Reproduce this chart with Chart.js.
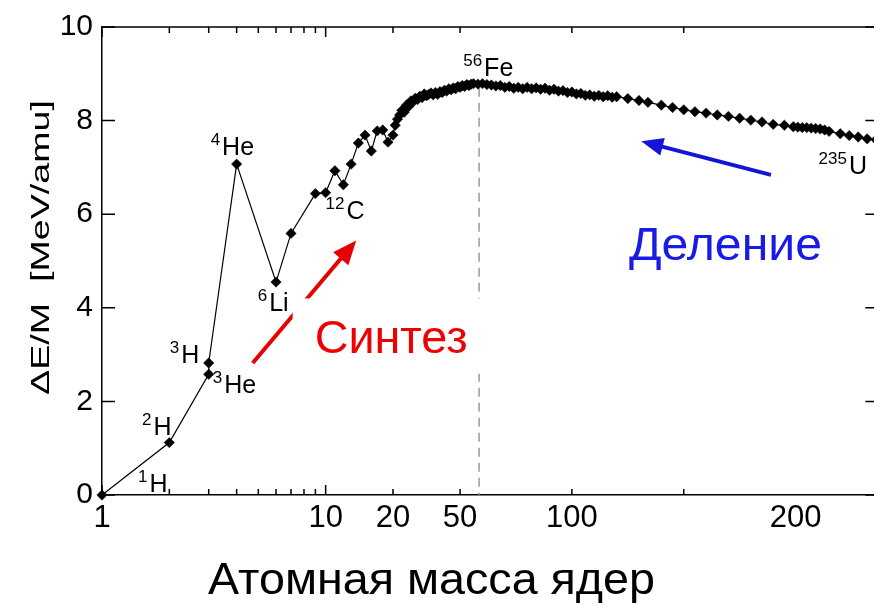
<!DOCTYPE html>
<html>
<head>
<meta charset="utf-8">
<script src="https://cdn.jsdelivr.net/npm/chart.js@4.4.0/dist/chart.umd.min.js"></script>
<style>
  html, body { margin: 0; padding: 0; background: #fff; overflow: hidden; }
  #wrap { width: 874px; height: 606px; overflow: hidden; }
  canvas { display: block; }
</style>
</head>
<body>
<div id="wrap"><canvas id="chart" width="884" height="606"></canvas></div>
<script>
// Binding energy per nucleon vs mass number
const massNumbers = [
  1, 2, 3, 3, 4, 6, 7, 9, 10, 11, 12, 13, 14, 15, 16, 17, 18, 19,
  20, 21, 22, 23, 24, 25, 26, 27, 28, 29, 30, 31, 32, 33, 34, 35, 36, 37, 38, 39,
  40, 41, 42, 43, 44, 45, 46, 47, 48, 49, 50, 51, 52, 53, 54, 55, 56, 58,
  60, 62, 64, 66, 68, 70, 72, 74, 76, 78, 80, 82, 84, 86, 88, 90, 92, 94, 96, 98,
  100, 102, 104, 106, 108, 110, 112, 114, 116, 118, 120,
  125, 130, 134, 140, 145, 150, 155, 160, 165, 170, 175, 180, 185, 190, 195,
  199, 201, 203, 205, 207, 209, 211, 213, 215, 220, 224, 228, 232, 236
];
const bindingPerNucleon = [
  0, 1.12, 2.58, 2.82, 7.07, 4.55, 5.59, 6.44, 6.46, 6.93, 6.63, 7.07, 7.52, 7.69, 7.35, 7.78, 7.80, 7.54,
  7.69, 7.90, 8.03, 8.12, 8.22, 8.18, 8.33, 8.30, 8.42, 8.40, 8.48, 8.45, 8.52, 8.49, 8.57, 8.53, 8.56, 8.59, 8.55, 8.60,
  8.56, 8.62, 8.60, 8.65, 8.63, 8.68, 8.66, 8.70, 8.68, 8.73, 8.71, 8.75, 8.73, 8.77, 8.75, 8.78, 8.79, 8.78,
  8.79, 8.77, 8.76, 8.74, 8.75, 8.71, 8.73, 8.69, 8.71, 8.68, 8.71, 8.68, 8.70, 8.67, 8.69, 8.65, 8.67, 8.63, 8.64, 8.60,
  8.61, 8.57, 8.58, 8.54, 8.55, 8.52, 8.54, 8.51, 8.53, 8.50, 8.51,
  8.47, 8.43, 8.39, 8.33, 8.28, 8.23, 8.19, 8.16, 8.12, 8.09, 8.05, 8.01, 7.97, 7.92, 7.90,
  7.87, 7.86, 7.85, 7.85, 7.84, 7.83, 7.82, 7.80, 7.77, 7.72, 7.68, 7.65, 7.61, 7.59
];

const xTickMasses = [1, 10, 20, 50, 100, 200];
const longTickMasses = [1, 10];
const shortTickMasses = [2, 3, 4, 5, 6, 7, 8, 9, 20, 50, 100, 150];
const yTickValues = [0, 2, 4, 6, 8, 10];
const xMaxMass = 237;
const feLineMass = 58.5;

// [superscript, symbol, mass, value] - left/baseline anchor of each label
const isotopeLabels = [
  ['1', 'H', 1.45, 0.06],
  ['2', 'H', 1.51, 1.29],
  ['3', 'H', 2.01, 2.82],
  ['3', 'He', 3.13, 2.19],
  ['4', 'He', 3.06, 7.26],
  ['6', 'Li', 4.97, 3.93],
  ['12', 'C', 9.99, 5.90],
  ['56', 'Fe', 51.4, 8.96],
  ['235', 'U', 210.3, 6.86]
];

const FONT = "'Liberation Sans', Arial, sans-serif";

// the figure's axis: log up to 20, then linear (0.01 decade per mass unit)
function axisPos(a) {
  return a <= 20 ? Math.log10(a) : Math.log10(20) + (a - 20) / 100;
}

function drawArrow(ctx, x1, y1, x2, y2, color, width, head, half) {
  const ang = Math.atan2(y2 - y1, x2 - x1);
  const c = Math.cos(ang), s = Math.sin(ang);
  ctx.strokeStyle = color;
  ctx.fillStyle = color;
  ctx.lineWidth = width;
  ctx.setLineDash([]);
  ctx.beginPath();
  ctx.moveTo(x1, y1);
  ctx.lineTo(x2 - c * head * 0.8, y2 - s * head * 0.8);
  ctx.stroke();
  ctx.beginPath();
  ctx.moveTo(x2, y2);
  ctx.lineTo(x2 - c * head + s * half, y2 - s * head - c * half);
  ctx.lineTo(x2 - c * head - s * half, y2 - s * head + c * half);
  ctx.closePath();
  ctx.fill();
}

// text stretched along its own direction to a given length
function fillStretched(ctx, text, x, y, length) {
  const w = ctx.measureText(text).width;
  ctx.save();
  ctx.translate(x, y);
  ctx.scale(length / w, 1);
  ctx.fillText(text, 0, 0);
  ctx.restore();
}

const overlay = {
  id: 'overlay',
  beforeDatasetsDraw(chart) {
    const { ctx, chartArea: ca, scales: { x, y } } = chart;
    const fx = x.getPixelForValue(axisPos(feLineMass));
    ctx.save();
    ctx.strokeStyle = '#8a8a8a';
    ctx.lineWidth = 1.3;
    ctx.setLineDash([9, 6]);
    ctx.beginPath();
    ctx.moveTo(fx, y.getPixelForValue(8.7));
    ctx.lineTo(fx, ca.bottom);
    ctx.stroke();
    ctx.restore();
  },
  afterDraw(chart) {
    const { ctx, chartArea: ca, scales: { x, y } } = chart;
    const px = a => x.getPixelForValue(axisPos(a));
    const py = v => y.getPixelForValue(v);
    ctx.save();

    // top and right frame
    ctx.strokeStyle = '#000';
    ctx.lineWidth = 1.5;
    ctx.beginPath();
    ctx.moveTo(ca.left, ca.top);
    ctx.lineTo(ca.right, ca.top);
    ctx.lineTo(ca.right, ca.bottom);
    ctx.stroke();

    // inward ticks
    ctx.beginPath();
    longTickMasses.concat(shortTickMasses).forEach(a => {
      const len = longTickMasses.includes(a) ? 10 : 6;
      const xx = px(a);
      ctx.moveTo(xx, ca.bottom); ctx.lineTo(xx, ca.bottom - len);
      ctx.moveTo(xx, ca.top); ctx.lineTo(xx, ca.top + len);
    });
    yTickValues.forEach(v => {
      const yy = py(v);
      ctx.moveTo(ca.left, yy); ctx.lineTo(ca.left + 13, yy);
      ctx.moveTo(ca.right, yy); ctx.lineTo(ca.right - 13, yy);
    });
    ctx.stroke();

    // arrows
    drawArrow(ctx, px(4.72), py(2.82), px(13.7), py(5.44), '#e80000', 4, 24, 10);
    drawArrow(ctx, px(189), py(6.84), px(131), py(7.56), '#1414d8', 4, 22, 9);

    // white box behind the fusion label
    ctx.fillStyle = '#fff';
    const bx = px(7.12), by = py(4.2);
    ctx.fillRect(bx, by, px(59.8) - bx, py(2.59) - by);

    ctx.textAlign = 'left';
    ctx.textBaseline = 'alphabetic';
    ctx.font = '46px ' + FONT;
    ctx.fillStyle = '#ee0000';
    fillStretched(ctx, 'Синтез', px(8.93), py(3.04), 153);
    ctx.fillStyle = '#1a1ae6';
    fillStretched(ctx, 'Деление', px(125.5), py(5.03), 193);

    // isotope labels with superscripts
    ctx.fillStyle = '#000';
    isotopeLabels.forEach(([sup, sym, a, v]) => {
      const lx = px(a), ly = py(v);
      ctx.font = '17px ' + FONT;
      ctx.fillText(sup, lx, ly - 10);
      const w = ctx.measureText(sup).width;
      ctx.font = '25px ' + FONT;
      ctx.fillText(sym, lx + w + 2, ly);
    });

    // axis titles
    ctx.font = '45px ' + FONT;
    fillStretched(ctx, 'Атомная масса ядер', 208, 594, 447);
    ctx.translate(49, 395);
    ctx.rotate(-Math.PI / 2);
    ctx.font = '25px ' + FONT;
    fillStretched(ctx, '\u0394E/M  [MeV/amu]', 0, 0, 295);
    ctx.restore();
  }
};

const ctx = document.getElementById('chart').getContext('2d');
new Chart(ctx, {
  type: 'line',
  data: {
    datasets: [{
      data: massNumbers.map((a, i) => ({ x: axisPos(a), y: bindingPerNucleon[i] })),
      borderColor: '#000',
      borderWidth: 1.2,
      pointStyle: 'rectRot',
      pointRadius: 5.2,
      pointBackgroundColor: '#000',
      pointBorderColor: '#000',
      pointBorderWidth: 0.5,
      tension: 0,
      clip: 10
    }]
  },
  options: {
    responsive: false,
    animation: false,
    layout: { padding: { top: 24, right: 4, left: 0, bottom: 0 } },
    plugins: { legend: { display: false }, tooltip: { enabled: false } },
    scales: {
      x: {
        type: 'linear',
        min: 0,
        max: axisPos(xMaxMass),
        afterBuildTicks: s => { s.ticks = xTickMasses.map(a => ({ value: axisPos(a) })); },
        afterFit: s => { s.height = 111; },
        grid: { display: false, drawTicks: false },
        border: { display: true, color: '#000', width: 1.5 },
        ticks: {
          callback: (v, i) => xTickMasses[i],
          font: { family: FONT, size: 31 },
          color: '#000',
          padding: 5,
          maxRotation: 0,
          autoSkip: false
        }
      },
      y: {
        min: 0,
        max: 10,
        afterBuildTicks: s => { s.ticks = yTickValues.map(v => ({ value: v })); },
        afterFit: s => { s.width = 102; },
        grid: { display: false, drawTicks: false },
        border: { display: true, color: '#000', width: 1.5 },
        ticks: {
          font: { family: FONT, size: 30 },
          color: '#000',
          padding: 9
        }
      }
    }
  },
  plugins: [overlay]
});
</script>
</body>
</html>
